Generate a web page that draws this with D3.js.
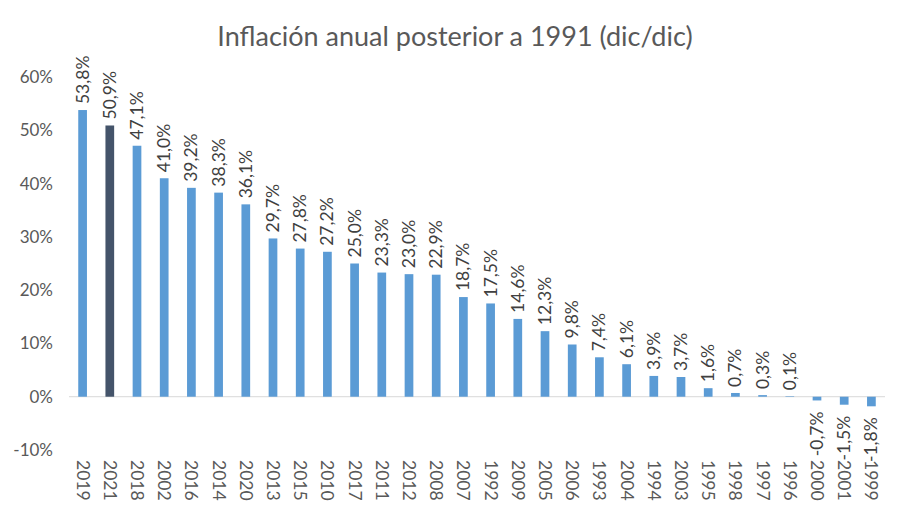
<!DOCTYPE html>
<html lang="es">
<meta charset="utf-8"/>
<head>
<script src="https://d3js.org/d3.v7.min.js"></script>
</head>
<style>
  body { margin: 0; background: #fff; }
  .axis text { font: 17px Lato, "Open Sans", sans-serif; fill: #595959; }
  .lbl { font: 17.5px Lato, "Open Sans", sans-serif; fill: #404040; }
</style>
<body>
<script>
// datos
var years = ["2019","2021","2018","2002","2016","2014","2020","2013","2015","2010",
             "2017","2011","2012","2008","2007","1992","2009","2005","2006","1993",
             "2004","1994","2003","1995","1998","1997","1996","2000","2001","1999"];
var inflation = [53.8,50.9,47.1,41.0,39.2,38.3,36.1,29.7,27.8,27.2,
                 25.0,23.3,23.0,22.9,18.7,17.5,14.6,12.3,9.8,7.4,
                 6.1,3.9,3.7,1.6,0.7,0.3,0.1,-0.7,-1.5,-1.8];
var yTicks = [-10,0,10,20,30,40,50,60];
var highlight = "2021";

var W = 909, H = 514;
var plotL = 69, plotR = 885, plotT = 77, plotB = 450;

var svg = d3.select("body").append("svg")
    .attr("width", W)
    .attr("height", H);

svg.append("text")
    .attr("x", 455)
    .attr("y", 46)
    .attr("text-anchor", "middle")
    .style("font", "27px Lato, 'Open Sans', sans-serif")
    .style("fill", "#595959")
    .text("Inflación anual posterior a 1991 (dic/dic)");

var x = d3.scaleBand()
    .domain(years)
    .range([plotL, plotR])
    .paddingInner(0.68)
    .paddingOuter(0.34);

var y = d3.scaleLinear()
    .domain([-10, 60])
    .range([plotB, plotT]);

// eje y sin linea
var yAxis = svg.append("g")
    .attr("class", "axis")
    .attr("transform", "translate(" + (plotL - 16) + ",0)")
    .call(d3.axisLeft(y).tickValues(yTicks).tickSize(0).tickPadding(0)
      .tickFormat(function(d){ return d + "%"; }));
yAxis.select(".domain").remove();

// linea del cero
svg.append("line")
    .attr("x1", plotL).attr("x2", plotR)
    .attr("y1", y(0)).attr("y2", y(0))
    .attr("stroke", "#d9d9d9")
    .attr("stroke-width", 1);

svg.selectAll(".bar")
    .data(inflation).enter()
    .append("rect")
    .attr("class", "bar")
    .attr("x", function(d,i){ return x(years[i]); })
    .attr("width", x.bandwidth())
    .attr("y", function(d){ return y(Math.max(d,0)); })
    .attr("height", function(d){ return Math.abs(y(d) - y(0)); })
    .attr("fill", function(d,i){ return years[i] == highlight ? "#44546a" : "#5b9bd5"; });

// etiquetas de valor
svg.selectAll(".lbl")
    .data(inflation).enter()
    .append("text")
    .attr("class", "lbl")
    .attr("transform", function(d,i){
      var cx = x(years[i]) + x.bandwidth()/2 + 6;
      var yy = d >= 0 ? y(d) - 6 : y(d) + 11;
      return "translate(" + cx + "," + yy + ") rotate(-90)";
    })
    .attr("text-anchor", function(d){ return d >= 0 ? "start" : "end"; })
    .text(function(d){ return d.toFixed(1).replace(".", ",") + "%"; });

// etiquetas de año
svg.selectAll(".yr")
    .data(years).enter()
    .append("text")
    .attr("class", "yr")
    .attr("transform", function(d){
      var cx = x(d) + x.bandwidth()/2 - 6;
      return "translate(" + cx + "," + 460 + ") rotate(90)";
    })
    .style("font", "17.5px Lato, 'Open Sans', sans-serif")
    .style("fill", "#595959")
    .text(function(d){ return d; });
</script>
</body>
</html>
